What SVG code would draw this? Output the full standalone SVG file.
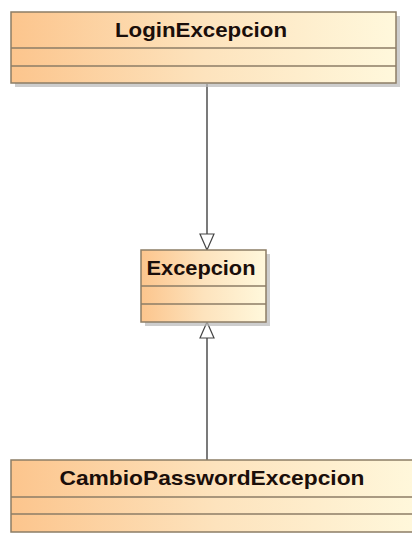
<svg xmlns="http://www.w3.org/2000/svg" width="412" height="533" viewBox="0 0 412 533">
<defs>
<linearGradient id="g" x1="0" y1="0" x2="1" y2="0">
<stop offset="0" stop-color="#fcc58d"/>
<stop offset="0.5" stop-color="#fde3bd"/>
<stop offset="1" stop-color="#fff8dc"/>
</linearGradient>
<marker id="tri" viewBox="0 0 18 16" refX="17" refY="8" markerWidth="18" markerHeight="16" markerUnits="userSpaceOnUse" orient="auto">
<path d="M1,1 L17,8 L1,15 Z" fill="#fff" stroke="#444" stroke-width="1.2"/>
</marker>
<style>
.sh{fill:#b8b8b8;opacity:0.7}
.box{fill:url(#g);stroke:#8c7d66;stroke-width:1.5}
.div{stroke:#8c7d66;stroke-width:1.5}
.t{font-family:"Liberation Sans",Arial,sans-serif;font-weight:bold;font-size:21px;fill:#1a0e0a;text-anchor:middle}
.c{stroke:#333;stroke-width:1.3;fill:none}
</style>
</defs>
<g id="connectors">
<line class="c" x1="207" y1="84" x2="207" y2="250" marker-end="url(#tri)"/>
<line class="c" x1="207" y1="460" x2="207" y2="322" marker-end="url(#tri)"/>
</g>
<g id="LoginExcepcion">
<rect class="sh" x="15" y="16" width="385" height="71"/>
<rect class="box" x="11" y="12" width="385" height="71"/>
<line class="div" x1="11" y1="48" x2="396" y2="48"/>
<line class="div" x1="11" y1="66" x2="396" y2="66"/>
<text class="t" x="201" y="37" textLength="172" lengthAdjust="spacingAndGlyphs">LoginExcepcion</text>
</g>
<g id="Excepcion">
<rect class="sh" x="145" y="254" width="125" height="72"/>
<rect class="box" x="141" y="250" width="125" height="72"/>
<line class="div" x1="141" y1="286" x2="266" y2="286"/>
<line class="div" x1="141" y1="304" x2="266" y2="304"/>
<text class="t" x="201" y="275" textLength="109" lengthAdjust="spacingAndGlyphs">Excepcion</text>
</g>
<g id="CambioPasswordExcepcion">
<rect class="box" x="11" y="460" width="410" height="72"/>
<line class="div" x1="11" y1="497" x2="421" y2="497"/>
<line class="div" x1="11" y1="514" x2="421" y2="514"/>
<text class="t" x="212" y="485" textLength="305" lengthAdjust="spacingAndGlyphs">CambioPasswordExcepcion</text>
</g>
</svg>
